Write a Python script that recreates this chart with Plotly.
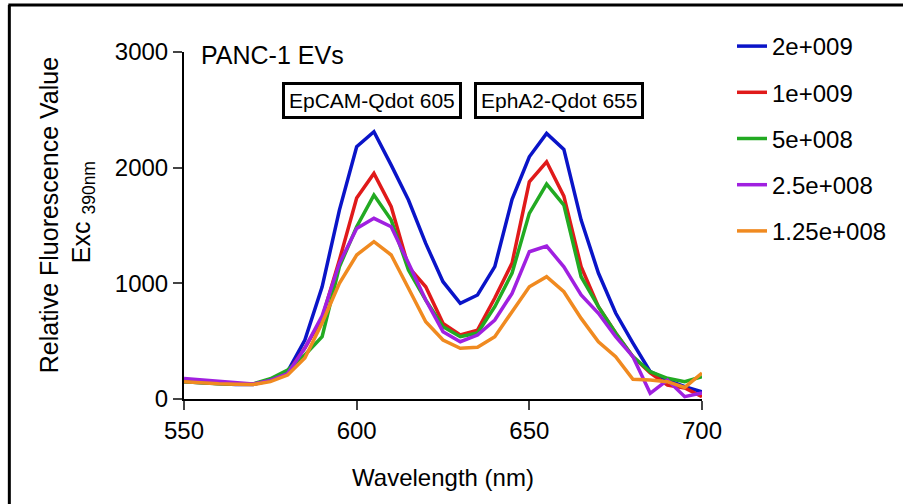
import plotly.graph_objects as go

wavelength = list(range(550, 701, 5))

s_2e9 = [150, 140, 130, 125, 125, 160, 236, 510, 970, 1633, 2181, 2311, 2022, 1720, 1345, 1014,
         827, 899, 1144, 1726, 2094, 2296, 2158, 1547, 1089, 743, 484, 236, 164, 106, 63]
s_1e9 = [155, 145, 135, 130, 128, 165, 225, 440, 700, 1201, 1737, 1950, 1662, 1143, 970, 654,
         553, 596, 873, 1175, 1878, 2051, 1754, 1143, 798, 570, 366, 225, 121, 95, 20]
s_5e8 = [150, 140, 132, 128, 130, 175, 250, 380, 539, 1143, 1489, 1763, 1547, 1115, 856, 625,
         539, 570, 798, 1089, 1605, 1858, 1677, 1057, 798, 570, 366, 236, 179, 150, 193]
s_25e8 = [178, 165, 150, 140, 130, 160, 220, 440, 720, 1173, 1475, 1562, 1489, 1175, 856, 582,
          495, 553, 683, 913, 1273, 1322, 1143, 899, 741, 539, 366, 49, 164, 20, 52]
s_125e8 = [150, 140, 132, 128, 125, 150, 207, 354, 657, 1000, 1245, 1360, 1245, 957, 668, 510,
           438, 447, 539, 755, 970, 1057, 927, 697, 495, 366, 170, 164, 150, 100, 225]

series_names = ["2e+009", "1e+009", "5e+008", "2.5e+008", "1.25e+008"]
series_values = [s_2e9, s_1e9, s_5e8, s_25e8, s_125e8]
colors = ["#0A14C8", "#E01A1A", "#22AA22", "#A020E0", "#F08A20"]

x_ticks = [550, 600, 650, 700]
y_ticks = [0, 1000, 2000, 3000]

FONT = "Arial, Liberation Sans, sans-serif"

fig = go.Figure()
for i, (name, vals, col) in enumerate(zip(series_names, series_values, colors)):
    fig.add_trace(go.Scatter(x=wavelength, y=vals, mode="lines", name=name,
                             legendgroup=f"g{i}",
                             line=dict(color=col, width=3.5)))

# plot area in pixels: x 184..703, y 52..399
L, R, T, B = 184, 200, 52, 105
W, H = 903 - L - R, 504 - T - B

def px_x(p):
    return (p - L) / W

def px_y(p):
    return (504 - B - p) / H

fig.update_layout(
    width=903, height=504,
    margin=dict(l=L, r=R, t=T, b=B),
    plot_bgcolor="white", paper_bgcolor="white",
    font=dict(family=FONT, color="black", size=24),
    showlegend=True,
    legend=dict(x=px_x(732), y=px_y(24), xanchor="left", yanchor="top",
                font=dict(size=24, family=FONT), tracegroupgap=12,
                bgcolor="rgba(0,0,0,0)"),
    xaxis=dict(range=[550, 700], tickvals=x_ticks, ticks="outside", ticklen=9, tickwidth=2,
               showline=True, linewidth=2, linecolor="black", showgrid=False, zeroline=False,
               tickfont=dict(size=24), title=dict(text="Wavelength (nm)", font=dict(size=24), standoff=26)),
    yaxis=dict(range=[0, 3000], tickvals=y_ticks, ticks="outside", ticklen=9, tickwidth=2,
               showline=True, linewidth=2, linecolor="black", showgrid=False, zeroline=False,
               tickfont=dict(size=24)),
)

fig.add_annotation(text="Relative Fluorescence Value", xref="paper", yref="paper",
                   x=px_x(49), y=px_y(215), textangle=-90, showarrow=False,
                   font=dict(size=25), xanchor="center", yanchor="middle")
fig.add_annotation(text="Exc <sub>390nm</sub>", xref="paper", yref="paper",
                   x=px_x(83), y=px_y(212), textangle=-90, showarrow=False,
                   font=dict(size=25), xanchor="center", yanchor="middle")
fig.add_annotation(text="PANC-1 EVs", xref="paper", yref="paper",
                   x=px_x(199), y=px_y(55), showarrow=False, xanchor="left", yanchor="middle",
                   font=dict(size=25))
fig.add_annotation(text="EpCAM-Qdot 605", xref="paper", yref="paper",
                   x=px_x(372), y=px_y(100), showarrow=False, xanchor="center", yanchor="middle",
                   font=dict(size=21), bordercolor="black", borderwidth=3, borderpad=4,
                   bgcolor="white")
fig.add_annotation(text="EphA2-Qdot 655", xref="paper", yref="paper",
                   x=px_x(560), y=px_y(100), showarrow=False, xanchor="center", yanchor="middle",
                   font=dict(size=21), bordercolor="black", borderwidth=3, borderpad=4,
                   bgcolor="white")

# outer frame (left and top edges)
fig.add_shape(type="line", xref="paper", yref="paper",
              x0=px_x(9), y0=px_y(520), x1=px_x(9), y1=px_y(5),
              line=dict(color="black", width=3))
fig.add_shape(type="line", xref="paper", yref="paper",
              x0=px_x(8), y0=px_y(5), x1=px_x(920), y1=px_y(5),
              line=dict(color="black", width=3))

fig.write_html("out.html")
